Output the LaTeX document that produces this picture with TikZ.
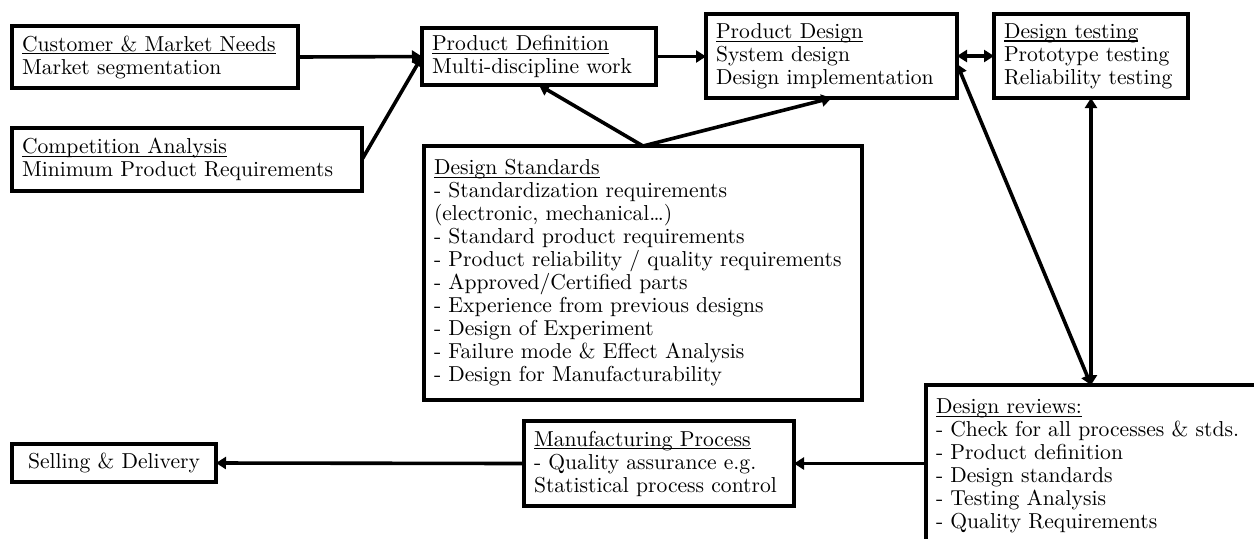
\documentclass[tikz,border=0pt]{standalone}
\usetikzlibrary{arrows.meta,calc}
\lineskiplimit=-20pt
\newsavebox{\caixasub}
\newcommand{\sublinhado}[1]{\sbox{\caixasub}{#1}\rlap{\rule[-1.7pt]{\wd\caixasub}{0.55pt}}\usebox{\caixasub}}
\begin{document}
\begin{tikzpicture}[
		x=0.5pt,
		y=-0.5pt,
		caixa/.style={
			draw,
			rectangle,
			anchor=north west,
			align=left,
			line width=1.8pt,
			inner xsep=5pt,
			inner ysep=0pt,
			outer sep=0pt,
			font=\fontsize{10.8}{11.5}\selectfont
		},
		seta/.style={
			-{Triangle[length=5pt,width=6pt]},
			line width=1.8pt
		},
		setadupla/.style={
			{Triangle[length=5pt,width=6pt]}-{Triangle[length=5pt,width=6pt]},
			line width=1.8pt
		}
		]
		
		\useasboundingbox (0,0) rectangle (1254,538);
		
		\node[caixa, text width=133pt, minimum height=31pt] (cust) at (12,26) {\sublinhado{Customer \& Market Needs}\\Market segmentation};
		\node[caixa, text width=165pt, minimum height=31.5pt] (comp) at (12,128) {\sublinhado{Competition Analysis}\\Minimum Product Requirements};
		
		\node[caixa, text width=107pt, minimum height=28.5pt] (pdef) at (422,28) {\sublinhado{Product Definition}\\Multi-discipline work};
		\node[caixa, text width=115.5pt, minimum height=42pt] (pdes) at (706,14) {\sublinhado{Product Design}\\System design\\Design implementation};
		\node[caixa, text width=87pt, minimum height=42pt] (test) at (994,14) {\sublinhado{Design testing}\\Prototype testing\\Reliability testing};
		
		\node[caixa, text width=209pt, minimum height=127pt] (std) at (424,146) {\sublinhado{Design Standards}\\
			- Standardization requirements\\
			(electronic, mechanical\ldots)\\
			- Standard product requirements\\
			- Product reliability / quality requirements\\
			- Approved/Certified parts\\
			- Experience from previous designs\\
			- Design of Experiment\\
			- Failure mode \& Effect Analysis\\
			- Design for Manufacturability};
		
		\node[caixa, text width=170pt, minimum height=81pt] (rev) at (926,385) {\sublinhado{Design reviews:}\\
			- Check for all processes \& stds.\\
			- Product definition\\
			- Design standards\\
			- Testing Analysis\\
			- Quality Requirements};
		\node[caixa, text width=125pt, minimum height=42.5pt] (manuf) at (524,421) {\sublinhado{Manufacturing Process}\\- Quality assurance e.g.\\Statistical process control};
		\node[caixa, text width=92pt, minimum height=19pt, align=center] (sell) at (12,444) {Selling \& Delivery};
		
		%Linhas
		\draw[seta] (cust.east) -- (pdef.west);
		\draw[seta] (comp.east) -- (pdef.west);
		\draw[seta] (pdef.east) -- (pdef.east -| pdes.west);
		
		\draw[seta] (std.north) -- (pdef.south);
		\draw[seta] (std.north) -- (pdes.south);
		
		\draw[setadupla] (pdes.east) -- (pdes.east -| test.west);
		
		\coordinate (revtopo) at ($(rev.north west)+(165,0)$);
		\draw[setadupla] ($(pdes.east)+(0,8)$) -- (revtopo);
		\draw[setadupla] (test.south) -- (test.south |- revtopo);
		
		\draw[seta] (rev.west |- manuf.east) -- (manuf.east);
		\draw[seta] (manuf.west) -- (sell.east);
		
	\end{tikzpicture}
\end{document}
